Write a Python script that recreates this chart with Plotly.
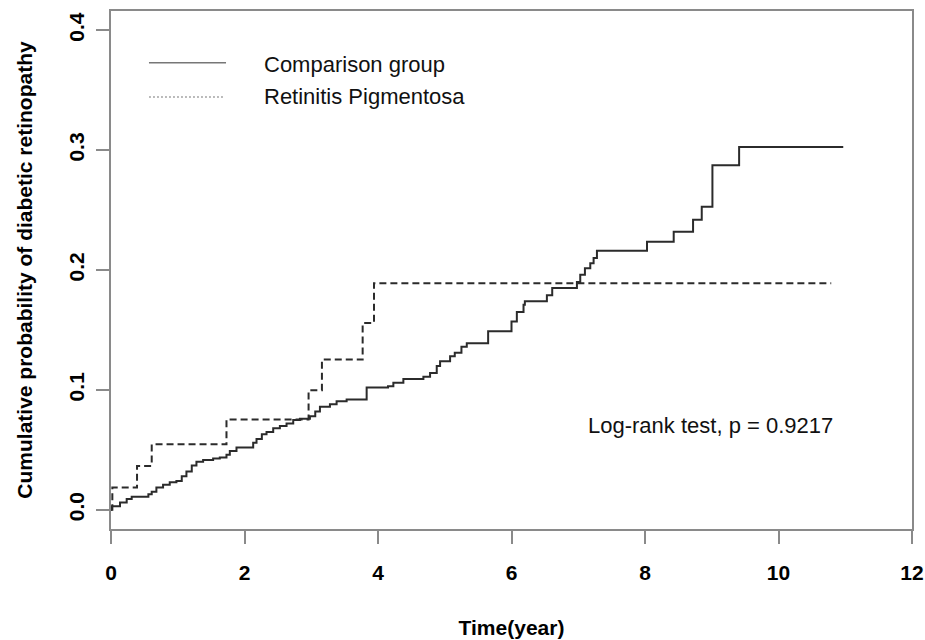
import plotly.graph_objects as go

# Comparison group (solid) Kaplan-Meier cumulative incidence
comp_time = [0.0, 0.005, 0.135, 0.235, 0.31, 0.56, 0.61, 0.68, 0.78, 0.88, 0.98, 1.06, 1.13, 1.21,
             1.28, 1.38, 1.53, 1.63, 1.73, 1.78, 1.88, 2.13, 2.18, 2.26, 2.33, 2.43, 2.53,
             2.63, 2.73, 2.83, 2.98, 3.06, 3.13, 3.28, 3.38, 3.53, 3.83, 4.15, 4.23, 4.38,
             4.68, 4.78, 4.88, 4.93, 5.08, 5.15, 5.25, 5.33, 5.65, 6.00, 6.08, 6.18, 6.20,
             6.53, 6.61, 6.98, 7.03, 7.10, 7.18, 7.23, 7.28, 8.03, 8.43, 8.72, 8.85, 9.01,
             9.41, 10.97]
comp_prob = [0.0, 0.003, 0.006, 0.009, 0.011, 0.013, 0.015, 0.0186, 0.021, 0.023, 0.024, 0.028, 0.032,
             0.037, 0.040, 0.0416, 0.0427, 0.0436, 0.046, 0.049, 0.052, 0.056, 0.059, 0.063,
             0.065, 0.068, 0.070, 0.072, 0.075, 0.076, 0.078, 0.082, 0.086, 0.088, 0.0906,
             0.092, 0.102, 0.103, 0.106, 0.109, 0.111, 0.114, 0.120, 0.124, 0.128, 0.131,
             0.136, 0.139, 0.149, 0.157, 0.165, 0.171, 0.174, 0.179, 0.185, 0.190, 0.196,
             0.2015, 0.2056, 0.210, 0.216, 0.2236, 0.232, 0.242, 0.2527, 0.2873, 0.3026,
             0.3026]

# Retinitis Pigmentosa group (dashed)
rp_time = [0.0, 0.02, 0.39, 0.61, 1.73, 2.96, 3.16, 3.77, 3.94, 10.79]
rp_prob = [0.0, 0.0186, 0.0366, 0.0546, 0.0754, 0.0998, 0.1253, 0.1558, 0.189, 0.189]

x_ticks = [0, 2, 4, 6, 8, 10, 12]
y_ticks = [0.0, 0.1, 0.2, 0.3, 0.4]
y_tick_text = ["0.0", "0.1", "0.2", "0.3", "0.4"]

legend_labels = ["Comparison group", "Retinitis Pigmentosa"]
stat_text = "Log-rank test, p = 0.9217"

FONT = "Liberation Sans, Arial, sans-serif"
AXIS_GRAY = "#8a8a8a"
LINE_COLOR = "#2b2b2b"

fig = go.Figure()
fig.add_trace(go.Scatter(x=comp_time, y=comp_prob, mode="lines", line_shape="hv",
                         line=dict(color=LINE_COLOR, width=2), name=legend_labels[0],
                         showlegend=False))
fig.add_trace(go.Scatter(x=rp_time, y=rp_prob, mode="lines", line_shape="hv",
                         line=dict(color=LINE_COLOR, width=2, dash="7px,4px"),
                         name=legend_labels[1], showlegend=False))

# R-style legend drawn in paper coordinates
fig.add_shape(type="line", xref="paper", yref="paper", x0=0.0474, x1=0.1436, y0=0.900, y1=0.900,
              line=dict(color="#777777", width=1.5))
fig.add_shape(type="line", xref="paper", yref="paper", x0=0.0474, x1=0.1411, y0=0.834, y1=0.834,
              line=dict(color="#777777", width=1.2, dash="2px,2px"))
fig.add_annotation(xref="paper", yref="paper", x=0.188, y=0.897, text=legend_labels[0],
                   showarrow=False, xanchor="left", yanchor="middle",
                   font=dict(family=FONT, size=22, color="#111111"))
fig.add_annotation(xref="paper", yref="paper", x=0.188, y=0.834, text=legend_labels[1],
                   showarrow=False, xanchor="left", yanchor="middle",
                   font=dict(family=FONT, size=22, color="#111111"))

fig.add_annotation(x=7.12, y=0.0707, text=stat_text, showarrow=False, xanchor="left",
                   yanchor="middle", font=dict(family=FONT, size=22, color="#111111"))

fig.update_layout(
    width=925, height=640,
    margin=dict(l=111, r=13, t=11, b=111),
    paper_bgcolor="white", plot_bgcolor="white",
    font=dict(family=FONT, color="black"),
    xaxis=dict(range=[0, 12], tickvals=x_ticks, ticks="outside", ticklen=13, tickwidth=1.5,
               tickcolor=AXIS_GRAY, showline=True, linecolor=AXIS_GRAY, linewidth=1.5,
               mirror=True, showgrid=False, zeroline=False, ticklabelstandoff=11,
               automargin=False,
               tickfont=dict(family=FONT, size=21, color="black", weight="bold"),
               title=dict(text="<b>Time(year)</b>", font=dict(family=FONT, size=21, color="black"),
                          standoff=37)),
    yaxis=dict(range=[-0.016, 0.416], tickvals=y_ticks, ticktext=y_tick_text, ticks="outside",
               ticklen=13, tickwidth=1.5, tickcolor=AXIS_GRAY, showline=True,
               linecolor=AXIS_GRAY, linewidth=1.5, mirror=True, showgrid=False,
               zeroline=False, tickangle=-90, ticklabelstandoff=4, automargin=False,
               tickfont=dict(family=FONT, size=21, color="black", weight="bold"),
               title=dict(text="<b>Cumulative probability of diabetic retinopathy</b>",
                          font=dict(family=FONT, size=21, color="black"), standoff=26)),
)

# remove the browser's default 8px body margin so the 925x640 figure fills the window
fig.write_html("out.html", config={"displayModeBar": False},
               post_script="document.body.style.margin='0';document.body.style.overflow='hidden';")
